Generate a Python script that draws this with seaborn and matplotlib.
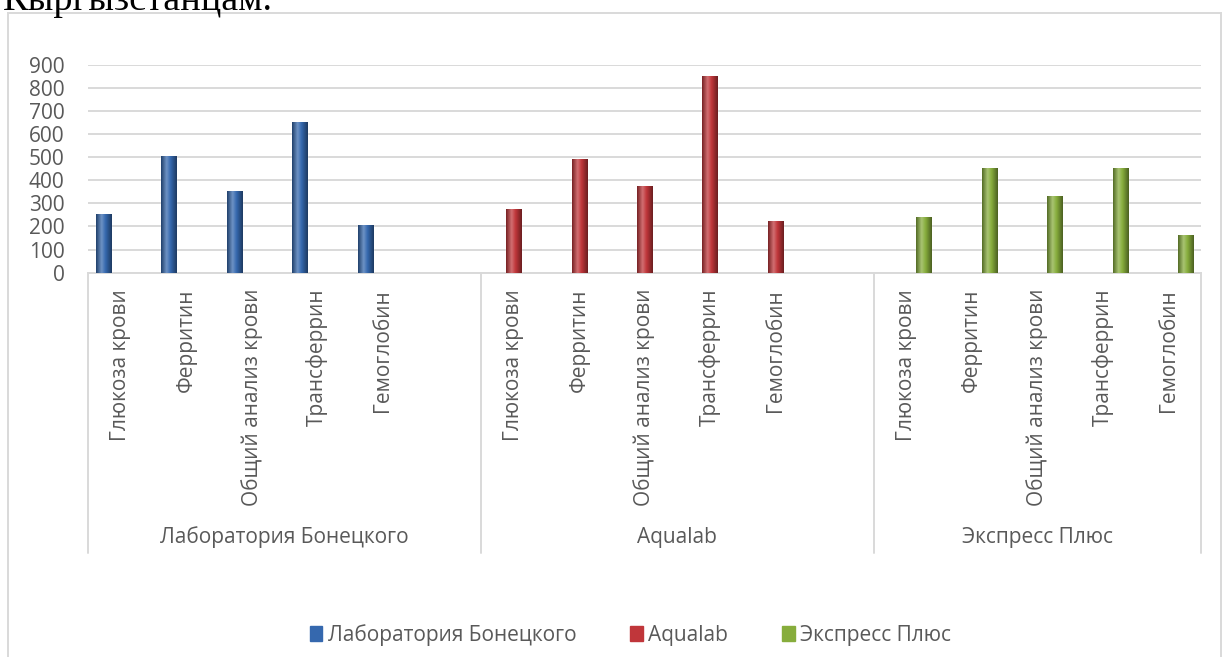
import numpy as np
import pandas as pd
import matplotlib
matplotlib.use("Agg")
import matplotlib.pyplot as plt
import seaborn as sns
from matplotlib.colors import LinearSegmentedColormap, to_rgb
from matplotlib.patches import Rectangle, Patch
from matplotlib.lines import Line2D
from matplotlib.transforms import blended_transform_factory

# ---------------- data ----------------
labs = ["Лаборатория Бонецкого", "Aqualab", "Экспресс Плюс"]
tests = ["Глюкоза крови", "Ферритин", "Общий анализ крови", "Трансферрин", "Гемоглобин"]
bonetsky = [255, 505, 355, 650, 205]
aqualab = [275, 490, 375, 852, 225]
express = [242, 455, 333, 455, 165]
values = [bonetsky, aqualab, express]
colors = ["#3568AE", "#C0363A", "#87AD3C"]
yticks = [0, 100, 200, 300, 400, 500, 600, 700, 800, 900]

# one slot per lab/test, plus an empty slot after the first two groups
rows, order, group_slots = [], [], []
for gi, (lab, vals) in enumerate(zip(labs, values)):
    slots = []
    for t, v in zip(tests, vals):
        key = f"{lab}|{t}"
        rows.append({"slot": key, "lab": lab, "test": t, "value": v})
        order.append(key)
        slots.append(len(order) - 1)
    group_slots.append(slots)
    if gi < len(labs) - 1:
        order.append(f"blank{gi}")
df = pd.DataFrame(rows)

# ---------------- style ----------------
W, H = 1224, 657
sns.set_theme(style="white")
plt.rcParams["font.family"] = ["Open Sans", "DejaVu Sans"]
TXT = "#595959"
GRID = "#D9D9D9"
FS = 15

fig = plt.figure(figsize=(W / 100, H / 100), dpi=100)
ax = fig.add_axes([88 / W, 1 - 272.7 / H, (1201 - 88) / W, (272.7 - 64.7) / H])

sns.barplot(data=df, x="slot", y="value", hue="lab", hue_order=labs, order=order,
            palette=colors, saturation=1, width=0.8, gap=0.14, dodge=True,
            errorbar=None, legend=False, ax=ax, zorder=3)

# cylinder-like horizontal shading on each bar
for patch in list(ax.patches):
    h = patch.get_height()
    if not np.isfinite(h) or h <= 0:
        continue
    base = np.array(to_rgb(patch.get_facecolor()))
    dark = base * 0.62
    light = np.clip(base + (1 - base) * 0.28, 0, 1)
    cmap = LinearSegmentedColormap.from_list(
        "cyl", [(0, dark), (0.35, light), (0.6, base), (1, dark * 0.9)])
    x0, y0 = patch.get_x(), patch.get_y()
    w = patch.get_width()
    grad = np.linspace(0, 1, 64).reshape(1, -1)
    im = ax.imshow(grad, cmap=cmap, aspect="auto", extent=(x0, x0 + w, y0, y0 + h),
                   zorder=3.5, interpolation="bilinear")
    im.set_clip_path(patch)

ax.set_xlim(-0.5, len(order) - 0.5)
ax.set_ylim(0, 900)
ax.set_yticks(yticks)
ax.set_yticklabels([str(v) for v in yticks], color=TXT, fontsize=FS)
ax.tick_params(axis="y", length=0, pad=17)
ax.tick_params(axis="x", length=0)
ax.set_xticks([])
ax.set_xlabel("")
ax.set_ylabel("")
ax.grid(axis="y", color=GRID, lw=1.4, zorder=0)
ax.set_axisbelow(True)
for s in ["left", "right", "top"]:
    ax.spines[s].set_visible(False)
ax.spines["bottom"].set_color(GRID)
ax.spines["bottom"].set_linewidth(1.4)

# multi-level category axis
tr = blended_transform_factory(ax.transData, fig.transFigure)
y_lab = 1 - 289 / H
for slots in group_slots:
    for s, t in zip(slots, tests):
        ax.text(s, y_lab, t, transform=tr, rotation=90, ha="center", va="top",
                color=TXT, fontsize=FS)
bounds = [-0.5]
for slots in group_slots[:-1]:
    bounds.append(slots[-1] + 1.5)
bounds.append(len(order) - 0.5)
for b in bounds:
    ax.add_line(Line2D([b, b], [1 - 272.7 / H, 1 - 553 / H], transform=tr,
                       color=GRID, lw=1.4, clip_on=False))
for gi, lab in enumerate(labs):
    c = (bounds[gi] + bounds[gi + 1]) / 2
    ax.text(c, 1 - 537 / H, lab, transform=tr, ha="center", va="center",
            color=TXT, fontsize=FS)

# legend
handles = [Patch(facecolor=c, edgecolor=c) for c in colors]
fig.legend(handles, labs, loc="center", bbox_to_anchor=(0.515, 1 - 635 / H), ncol=3,
           frameon=False, handlelength=0.6, handleheight=0.75, handletextpad=0.25,
           columnspacing=2.6, labelcolor=TXT, fontsize=FS)

# chart-area border and cropped document text above
fig.patches.append(Rectangle((8 / W, -0.1), (1221 - 8) / W, 1 - 13 / H + 0.1,
                             transform=fig.transFigure, fill=False,
                             edgecolor=GRID, lw=1.4))
fig.text(3 / W, 1 - 10 / H, "Кыргызстанцам.", family=["Liberation Serif", "DejaVu Serif"],
         fontsize=27.5, color="black", va="baseline", ha="left")

fig.savefig("out.png", dpi=100)
